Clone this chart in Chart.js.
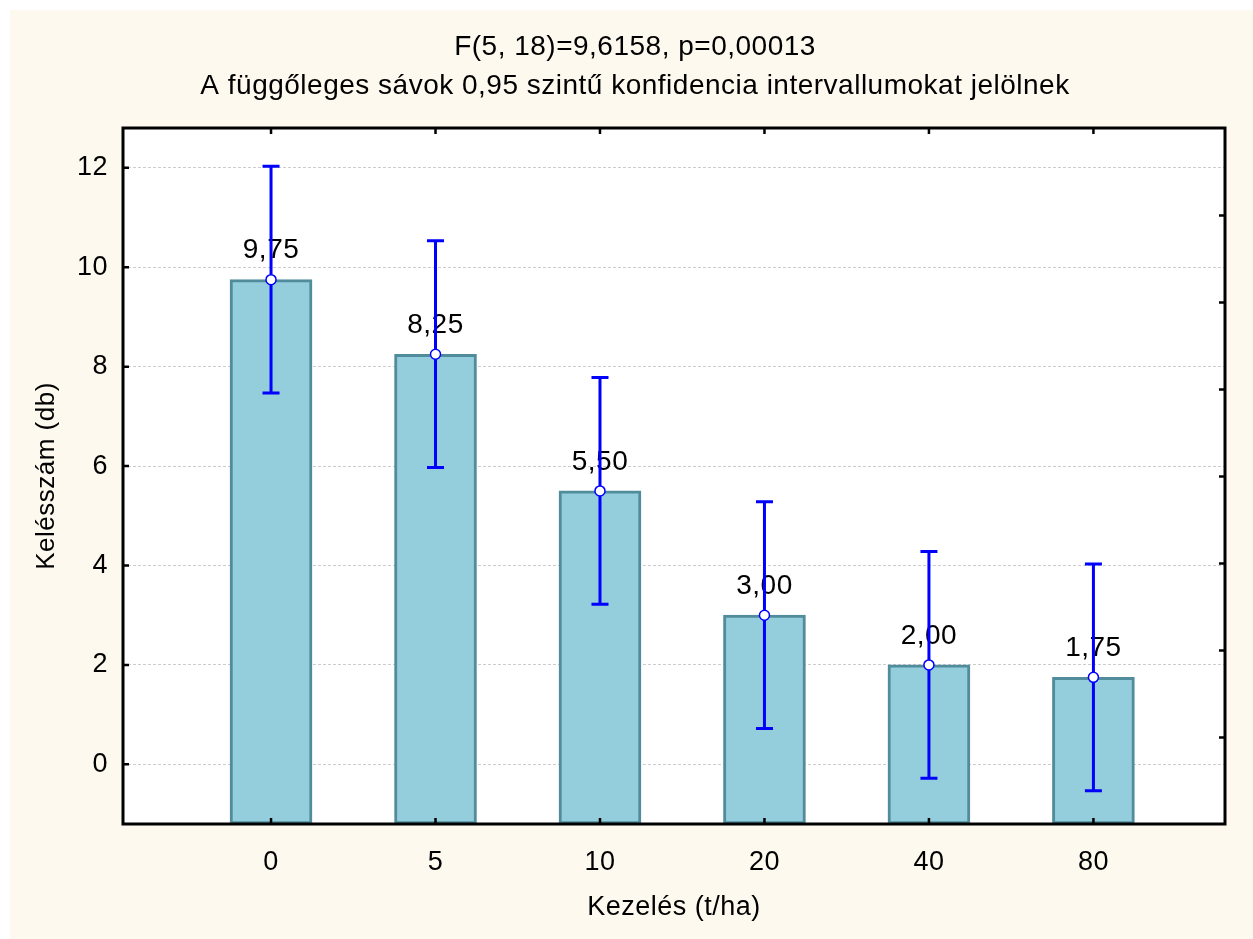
<!DOCTYPE html>
<html lang="hu">
<head>
<meta charset="utf-8">
<title>Kelésszám kezelésenként</title>
<script src="https://cdn.jsdelivr.net/npm/chart.js@4.4.1/dist/chart.umd.min.js"></script>
<style>
  html, body { margin: 0; padding: 0; background: #ffffff; }
  #frame { position: absolute; left: 10px; top: 10px; width: 1243px; height: 929px; background: #FEF9EF; }
  #frame canvas { display: block; }
</style>
</head>
<body>
<div id="frame"><canvas id="chart"></canvas></div>
<script>
// Treatment levels (t/ha) and mean emergence counts
const categories = ['0', '5', '10', '20', '40', '80'];
const means = [9.75, 8.25, 5.50, 3.00, 2.00, 1.75];
// 0.95 confidence interval bounds
const ciLow = [7.47, 5.97, 3.22, 0.72, -0.28, -0.53];
const ciHigh = [12.03, 10.53, 7.78, 5.28, 4.28, 4.03];
// Axis ticks
const yTickValues = [0, 2, 4, 6, 8, 10, 12];
const rightTickValues = [0.54, 2.29, 4.04, 5.79, 7.54, 9.29, 11.04];
const yMin = -1.2, yMax = 12.8;
const xMin = -0.9, xMax = 5.8;
// Texts
const titleLines = ['F(5, 18)=9,6158, p=0,00013', 'A függőleges sávok 0,95 szintű konfidencia intervallumokat jelölnek'];
const xTitle = 'Kezelés (t/ha)';
const yTitle = 'Kelésszám (db)';

const FONT = "'Liberation Sans', Arial, sans-serif";
const SPACING = '0.5px';
const fmt = v => v.toFixed(2).replace('.', ',');

Chart.defaults.font.family = FONT;
Chart.defaults.font.size = 27;
Chart.defaults.color = '#000000';

// Slightly tracked lettering for all canvas text
const spacingPlugin = {
  id: 'spacing',
  beforeUpdate(chart) { chart.ctx.letterSpacing = SPACING; },
  beforeLayout(chart) { chart.ctx.letterSpacing = SPACING; },
  beforeDraw(chart) { chart.ctx.letterSpacing = SPACING; }
};

// White plot background
const plotBgPlugin = {
  id: 'plotBg',
  beforeDraw(chart) {
    const { left, top, right, bottom } = chart.chartArea;
    const ctx = chart.ctx;
    ctx.save();
    ctx.fillStyle = '#ffffff';
    ctx.fillRect(left, top, right - left, bottom - top);
    ctx.restore();
  }
};

// Value labels and confidence whiskers, drawn just under the mean markers
const whiskerPlugin = {
  id: 'whiskers',
  beforeDatasetDraw(chart, args) {
    if (args.meta.type !== 'line') return;
    const xs = chart.scales.x, ys = chart.scales.y, ctx = chart.ctx;
    ctx.save();
    ctx.font = '28px ' + FONT;
    ctx.fillStyle = '#000000';
    ctx.textAlign = 'center';
    ctx.textBaseline = 'middle';
    means.forEach((m, i) => {
      ctx.fillText(fmt(m), xs.getPixelForValue(i), ys.getPixelForValue(m) - 29);
    });
    ctx.strokeStyle = '#0000FF';
    ctx.lineWidth = 3;
    ctx.beginPath();
    means.forEach((m, i) => {
      const px = xs.getPixelForValue(i);
      const pLo = ys.getPixelForValue(ciLow[i]);
      const pHi = ys.getPixelForValue(ciHigh[i]);
      ctx.moveTo(px, pLo); ctx.lineTo(px, pHi);
      ctx.moveTo(px - 8.5, pLo); ctx.lineTo(px + 8.5, pLo);
      ctx.moveTo(px - 8.5, pHi); ctx.lineTo(px + 8.5, pHi);
    });
    ctx.stroke();
    ctx.restore();
  }
};

// Black frame with inward tick marks on all four sides
const framePlugin = {
  id: 'frame',
  afterDatasetsDraw(chart) {
    const { left, top, right, bottom } = chart.chartArea;
    const xs = chart.scales.x, ys = chart.scales.y, ctx = chart.ctx;
    ctx.save();
    ctx.strokeStyle = '#000000';
    ctx.lineWidth = 3;
    ctx.strokeRect(left, top, right - left, bottom - top);
    ctx.lineWidth = 2.5;
    ctx.beginPath();
    yTickValues.forEach(v => {
      const py = ys.getPixelForValue(v);
      ctx.moveTo(left, py); ctx.lineTo(left + 6, py);
    });
    rightTickValues.forEach(v => {
      const py = ys.getPixelForValue(v);
      ctx.moveTo(right, py); ctx.lineTo(right - 6, py);
    });
    categories.forEach((_, i) => {
      const px = xs.getPixelForValue(i);
      ctx.moveTo(px, top); ctx.lineTo(px, top + 6);
      ctx.moveTo(px, bottom); ctx.lineTo(px, bottom - 6);
    });
    ctx.stroke();
    ctx.restore();
  }
};

new Chart(document.getElementById('chart'), {
  type: 'bar',
  data: {
    datasets: [
      {
        type: 'bar',
        order: 2,
        data: means.map((m, i) => ({ x: i, y: m })),
        base: yMin,
        barThickness: 82,
        backgroundColor: '#94CDDB',
        borderColor: '#508C9B',
        borderWidth: 3,
        borderSkipped: false
      },
      {
        type: 'line',
        order: 1,
        data: means.map((m, i) => ({ x: i, y: m })),
        showLine: false,
        pointRadius: 5,
        pointBackgroundColor: '#ffffff',
        pointBorderColor: '#0000FF',
        pointBorderWidth: 1.5
      }
    ]
  },
  options: {
    responsive: true,
    maintainAspectRatio: false,
    animation: false,
    layout: { padding: { left: 35, right: 28, top: 0, bottom: 0 } },
    plugins: {
      legend: { display: false },
      tooltip: { enabled: false },
      title: {
        display: true,
        text: titleLines,
        font: { size: 28, weight: 'normal', lineHeight: 1.393 },
        color: '#000000',
        padding: { top: 17.5, bottom: 22.5 }
      }
    },
    scales: {
      x: {
        type: 'linear',
        min: xMin,
        max: xMax,
        offset: false,
        afterBuildTicks: s => { s.ticks = categories.map((_, i) => ({ value: i })); },
        afterFit: s => { s.height = 115; },
        grid: { display: false, offset: false },
        border: { display: false },
        ticks: { padding: 14, callback: v => categories[v] ?? '', font: { size: 27 } },
        title: { display: true, text: xTitle, font: { size: 27 }, padding: { top: 0, bottom: 15 } }
      },
      y: {
        type: 'linear',
        min: yMin,
        max: yMax,
        afterBuildTicks: s => { s.ticks = yTickValues.map(v => ({ value: v })); },
        afterFit: s => { s.width = 78; },
        grid: { color: '#cccccc', lineWidth: 1, drawTicks: false },
        border: { display: false, dash: [3, 2] },
        ticks: { padding: 15, font: { size: 27 } },
        title: { display: true, text: yTitle, font: { size: 26 }, padding: { top: -13.6, bottom: 0 } }
      }
    }
  },
  plugins: [spacingPlugin, plotBgPlugin, whiskerPlugin, framePlugin]
});
</script>
</body>
</html>
